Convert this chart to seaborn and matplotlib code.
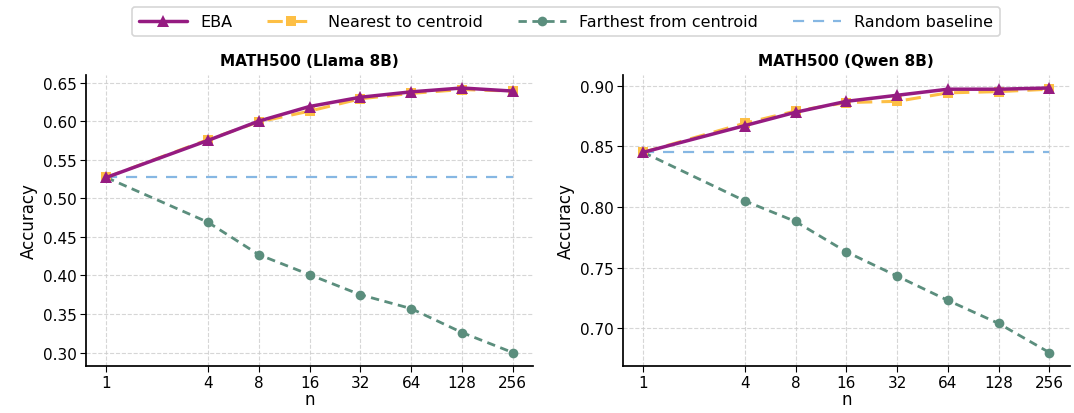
import numpy as np
import pandas as pd
import seaborn as sns
import matplotlib.pyplot as plt

sns.set_theme(style="ticks", rc={"axes.edgecolor": "black", "xtick.color": "black",
                                 "ytick.color": "black", "text.color": "black",
                                 "axes.labelcolor": "black"})
plt.rcParams['font.family'] = ['DejaVu Sans']

n_values = [1, 4, 8, 16, 32, 64, 128, 256]
tick_labels = ["1", "4", "8", "16", "32", "64", "128", "256"]

llama_eba = [0.527, 0.575, 0.600, 0.619, 0.631, 0.638, 0.643, 0.639]
llama_nearest = [0.527, 0.576, 0.599, 0.613, 0.629, 0.636, 0.641, 0.639]
llama_farthest = [0.527, 0.469, 0.427, 0.401, 0.375, 0.357, 0.326, 0.300]
llama_random = 0.527

qwen_eba = [0.845, 0.867, 0.878, 0.887, 0.892, 0.897, 0.897, 0.898]
qwen_nearest = [0.845, 0.869, 0.879, 0.886, 0.887, 0.894, 0.895, 0.897]
qwen_farthest = [0.845, 0.805, 0.788, 0.763, 0.743, 0.723, 0.704, 0.680]
qwen_random = 0.845

titles = ["MATH500 (Llama 8B)", "MATH500 (Qwen 8B)"]

C_EBA = "#951b81"
C_NEAR = "#fdbf45"
C_FAR = "#5b8e7d"
C_RAND = "#86b7e3"

panels = [
    (llama_eba, llama_nearest, llama_farthest, llama_random),
    (qwen_eba, qwen_nearest, qwen_farthest, qwen_random),
]

fig, axes = plt.subplots(1, 2, figsize=(10.74, 4.14), dpi=100)

for ax, title, (eba, near, far, rnd) in zip(axes, titles, panels):
    df = pd.DataFrame({"n": n_values, "eba": eba, "near": near, "far": far,
                       "rand": [rnd] * len(n_values)})
    sns.lineplot(data=df, x="n", y="rand", ax=ax, color=C_RAND, lw=1.6,
                 linestyle=(0, (5, 4)), label="Random baseline")
    sns.lineplot(data=df, x="n", y="far", ax=ax, color=C_FAR, lw=2.0,
                 linestyle=(0, (3, 2)), marker="o", markersize=7,
                 markeredgewidth=0, label="Farthest from centroid")
    sns.lineplot(data=df, x="n", y="near", ax=ax, color=C_NEAR, lw=2.2,
                 linestyle=(0, (5, 3)), marker="s", markersize=7,
                 markeredgewidth=0, label="Nearest to centroid")
    sns.lineplot(data=df, x="n", y="eba", ax=ax, color=C_EBA, lw=2.5,
                 marker="^", markersize=8, markeredgewidth=0, label="EBA")
    ax.set_xscale("log", base=2)
    ax.set_xticks(n_values)
    ax.set_xticklabels(tick_labels)
    ax.minorticks_off()
    ax.set_title(title, fontsize=11, fontweight="bold", pad=7)
    ax.set_xlabel("n", fontsize=12, labelpad=0)
    ax.set_ylabel("Accuracy", fontsize=12, labelpad=4)
    ax.tick_params(labelsize=11, length=4, width=0.8, pad=2.5)
    ax.grid(True, linestyle="--", color="#cccccc", alpha=0.8, linewidth=0.8)
    ax.get_legend().remove()
    sns.despine(ax=ax)

handles, labels = axes[0].get_legend_handles_labels()
order = ["EBA", "Nearest to centroid", "Farthest from centroid", "Random baseline"]
hmap = dict(zip(labels, handles))
leg = fig.legend([hmap[k] for k in order], order, loc="upper center", ncol=4,
                 bbox_to_anchor=(0.527, 1.0), fontsize=11.5, frameon=True,
                 fancybox=True, handlelength=3.0, columnspacing=2.2,
                 borderpad=0.45)
leg.get_frame().set_edgecolor("#cccccc")
leg.get_frame().set_linewidth(1.2)

fig.subplots_adjust(left=0.080, right=0.996, bottom=0.114, top=0.817, wspace=0.2)
axes[1].set_position([0.580, 0.114, 0.416, 0.703])
fig.savefig("out.png", dpi=100)
